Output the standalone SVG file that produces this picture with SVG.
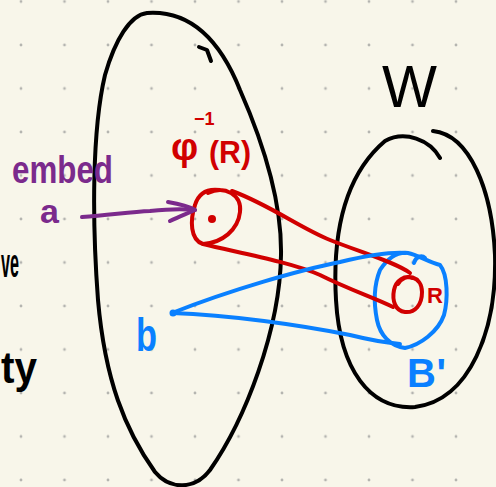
<svg xmlns="http://www.w3.org/2000/svg" width="496" height="487" viewBox="0 0 496 487">
<defs>
<pattern id="grid" patternUnits="userSpaceOnUse" x="-0.75" y="-20.25" width="43.5" height="43.5">
<circle cx="21.75" cy="21.75" r="1.4" fill="#b4b4b0"/>
</pattern>
<style>
.s{fill:none;stroke-width:4;stroke-linecap:round;stroke-linejoin:round}
.k{stroke:#000}
.r{stroke:#d10000}
.b{stroke:#0a80ff}
.p{stroke:#7b2a8c}
.t{font-family:"Liberation Sans",Arial,sans-serif;font-weight:bold}
</style>
</defs>
<rect width="496" height="487" fill="#f8f6ea"/>
<rect width="496" height="487" fill="url(#grid)"/>

<g id="left-text" class="t">
<text x="1" y="277" font-size="40" fill="#000" textLength="18" lengthAdjust="spacingAndGlyphs">ve</text>
<text x="1" y="383" font-size="44" fill="#000" textLength="36" lengthAdjust="spacingAndGlyphs">ty</text>
</g>

<g id="set-domain">
<path class="s k" d="M147,13 C190,10 220,40 240,90 C262,140 282,200 281,255 C280,330 245,420 210,470 C195,490 170,490 155,472 C125,430 105,380 98,300 C92,220 92,130 105,75 C115,40 130,15 147,13 Z"/>
<path class="s k" d="M199,47 L207,50 L211,61"/>
</g>

<g id="set-W">
<path class="s k" d="M433,131 C470,135 492,190 495,255 C497,330 470,400 415,407 C370,410 340,370 336,300 C332,230 345,175 385,141 C405,130 430,140 440,158"/>
<text class="t" x="382" y="107" font-size="60" fill="#000" textLength="55" lengthAdjust="spacingAndGlyphs" style="font-weight:normal">W</text>
</g>

<g id="label-embed" class="t" fill="#7b2a8c">
<text x="12" y="183" font-size="38" textLength="101" lengthAdjust="spacingAndGlyphs">embed</text>
<text x="40" y="223" font-size="34">a</text>
</g>

<g id="preimage">
<path class="s r" d="M208,193 C225,185 242,195 240,212 C238,230 222,243 203,244 C190,240 190,220 195,205 C198,195 205,188 220,190"/>
<circle cx="212" cy="219" r="4" fill="#d10000"/>
<g class="t" fill="#d10000">
<text x="171" y="160" font-size="38">φ</text>
<text x="194" y="125" font-size="18">−1</text>
<text x="209" y="163" font-size="32" textLength="42" lengthAdjust="spacingAndGlyphs">(R)</text>
</g>
</g>

<g id="R-set">
<path class="s r" d="M398,284 C405,272 422,276 422,292 C422,305 415,313 405,312 C395,311 392,300 394,290 C396,280 405,275 412,278"/>
<text class="t" x="427" y="303" font-size="22" fill="#d10000">R</text>
</g>

<g id="B-prime">
<path class="s b" d="M380,270 C390,255 400,252 408,253 C418,255 428,262 440,265 C448,275 448,300 444,315 C438,332 420,345 405,348 C390,346 380,335 377,320 C373,300 374,285 380,270 Z"/>
<path class="s b" d="M414,263 C416,256 422,255 425,258"/>
<text class="t" x="407" y="387" font-size="40" fill="#0a80ff" textLength="39" lengthAdjust="spacing">B'</text>
</g>

<g id="point-b">
<circle cx="173" cy="313" r="3.5" fill="#0a80ff"/>
<text class="t" x="136" y="351" font-size="46" fill="#0a80ff" textLength="21" lengthAdjust="spacingAndGlyphs">b</text>
</g>

<g id="connectors">
<path class="s p" d="M82,217 C110,215 130,212 150,211 C170,209 185,209 195,210"/>
<path class="s p" d="M168,202 C180,204 190,207 195,210 C186,214 178,217 170,221"/>
<path class="s r" d="M232,191 C270,205 300,228 330,240 C360,252 395,262 410,273"/>
<path class="s r" d="M203,244 C240,253 290,262 320,275 C350,290 375,298 393,307"/>
<path class="s b" d="M172,313 C230,290 300,270 340,262 C370,255 390,252 405,253"/>
<path class="s b" d="M172,313 C230,315 300,325 350,335 C370,340 390,343 400,344"/>
</g>
</svg>
